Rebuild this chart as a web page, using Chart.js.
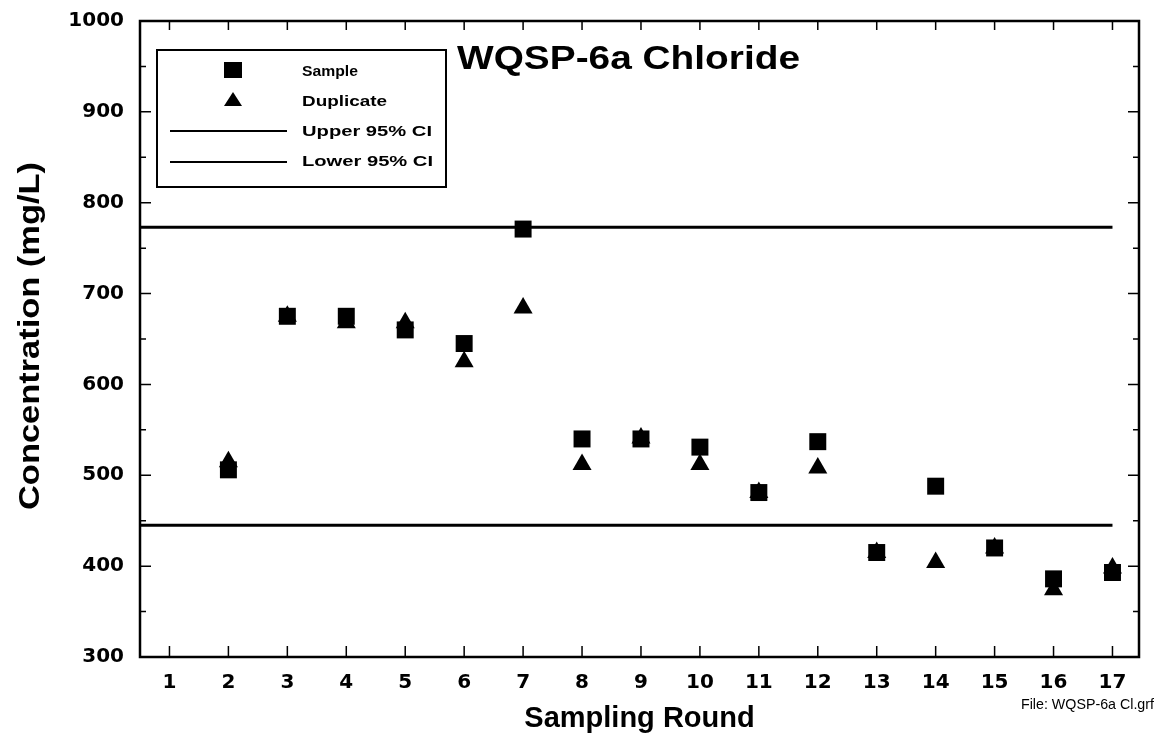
<!DOCTYPE html>
<html>
<head>
<meta charset="utf-8">
<script src="https://cdn.jsdelivr.net/npm/chart.js@4/dist/chart.umd.min.js"></script>
<style>
  html, body { margin: 0; padding: 0; background: #fff; }
  #wrap { width: 1157px; height: 736px; }
</style>
</head>
<body>
<div id="wrap"><canvas id="chlorideChart" width="1157" height="736"></canvas></div>
<script>
// Sampling rounds and measured values (mg/L)
const rounds = [2, 3, 4, 5, 6, 7, 8, 9, 10, 11, 12, 13, 14, 15, 16, 17];
const sampleValues = [506, 675, 675, 660, 645, 771, 540, 540, 531, 481, 537, 415, 488, 420, 386, 393];
const duplicateValues = [515, 675, 668, 668, 625, 684, 512, 541, 512, 481, 508, 415, 404, 420, 374, 398];

// Confidence limits, drawn across the rounds
const ciRounds = [0.5, 17];
const upperCI = [773, 773];
const lowerCI = [445, 445];

const xTicks = [1, 2, 3, 4, 5, 6, 7, 8, 9, 10, 11, 12, 13, 14, 15, 16, 17];
const yTicks = [300, 400, 500, 600, 700, 800, 900, 1000];

const boldFont = "'Liberation Sans', Arial, sans-serif";
const tickFont = "'DejaVu Sans', 'Liberation Sans', sans-serif";

function toPoints(xs, ys) {
  return xs.map((x, i) => ({ x: x, y: ys[i] }));
}

// draw text stretched to a given width
function fitText(ctx, text, x, y, width) {
  const w = ctx.measureText(text).width;
  ctx.save();
  ctx.translate(x, y);
  ctx.scale(width / w, 1);
  ctx.fillText(text, 0, 0);
  ctx.restore();
}

// Frame with inward ticks on all four sides
const framePlugin = {
  id: "frame",
  afterDraw(chart) {
    const { ctx, chartArea: a, scales } = chart;
    ctx.save();
    ctx.strokeStyle = "#000";
    ctx.lineWidth = 1.5;
    xTicks.forEach((v) => {
      const px = scales.x.getPixelForValue(v);
      ctx.beginPath();
      ctx.moveTo(px, a.bottom); ctx.lineTo(px, a.bottom - 11);
      ctx.moveTo(px, a.top); ctx.lineTo(px, a.top + 9);
      ctx.stroke();
    });
    for (let v = 300; v <= 1000; v += 50) {
      const py = scales.y.getPixelForValue(v);
      const len = v % 100 === 0 ? 11 : 6;
      ctx.beginPath();
      ctx.moveTo(a.left, py); ctx.lineTo(a.left + len, py);
      ctx.moveTo(a.right, py); ctx.lineTo(a.right - len, py);
      ctx.stroke();
    }
    ctx.lineWidth = 2.5;
    ctx.strokeRect(a.left, a.top, a.right - a.left, a.bottom - a.top);
    ctx.restore();
  }
};

// Title, y title, boxed legend and file note drawn on the canvas
const notesPlugin = {
  id: "notes",
  afterDraw(chart) {
    const ctx = chart.ctx;
    ctx.save();
    ctx.fillStyle = "#000";
    ctx.textBaseline = "alphabetic";
    ctx.textAlign = "left";
    ctx.font = "bold 34px " + boldFont;
    fitText(ctx, "WQSP-6a Chloride", 457, 69, 343);

    // y axis title, rotated
    ctx.save();
    ctx.translate(39, 510);
    ctx.rotate(-Math.PI / 2);
    ctx.font = "bold 30px " + boldFont;
    fitText(ctx, "Concentration (mg/L)", 0, 0, 348);
    ctx.restore();

    // legend box
    ctx.fillStyle = "#fff";
    ctx.fillRect(157, 50, 289, 137);
    ctx.strokeStyle = "#000";
    ctx.lineWidth = 2;
    ctx.strokeRect(157, 50, 289, 137);

    ctx.fillStyle = "#000";
    ctx.fillRect(224, 62, 18, 16);
    ctx.beginPath();
    ctx.moveTo(233, 92); ctx.lineTo(242, 106); ctx.lineTo(224, 106);
    ctx.closePath(); ctx.fill();
    ctx.lineWidth = 2;
    ctx.beginPath();
    ctx.moveTo(170, 131); ctx.lineTo(287, 131);
    ctx.moveTo(170, 162); ctx.lineTo(287, 162);
    ctx.stroke();

    ctx.font = "bold 14px " + boldFont;
    fitText(ctx, "Sample", 302, 76, 56);
    fitText(ctx, "Duplicate", 302, 106, 85);
    fitText(ctx, "Upper 95% CI", 302, 136, 130);
    fitText(ctx, "Lower 95% CI", 302, 166, 131);

    ctx.font = "15px 'Liberation Sans Narrow', " + boldFont;
    fitText(ctx, "File: WQSP-6a Cl.grf", 1021, 709, 133);
    ctx.restore();
  }
};

const ctxChart = document.getElementById("chlorideChart").getContext("2d");

new Chart(ctxChart, {
  type: "scatter",
  data: {
    datasets: [
      {
        label: "Sample",
        data: toPoints(rounds, sampleValues),
        pointStyle: "rect",
        pointRadius: 12,
        backgroundColor: "#000",
        borderColor: "#000",
        borderWidth: 0,
        order: 1
      },
      {
        label: "Duplicate",
        data: toPoints(rounds, duplicateValues),
        pointStyle: "triangle",
        pointRadius: 11,
        backgroundColor: "#000",
        borderColor: "#000",
        borderWidth: 0,
        order: 2
      },
      {
        label: "Upper 95% CI",
        type: "line",
        data: toPoints(ciRounds, upperCI),
        borderColor: "#000",
        borderWidth: 3,
        pointRadius: 0,
        order: 3
      },
      {
        label: "Lower 95% CI",
        type: "line",
        data: toPoints(ciRounds, lowerCI),
        borderColor: "#000",
        borderWidth: 3,
        pointRadius: 0,
        order: 3
      }
    ]
  },
  options: {
    responsive: false,
    animation: false,
    layout: { padding: { top: 21, right: 18, left: 0, bottom: 0 } },
    plugins: {
      legend: { display: false },
      tooltip: { enabled: false }
    },
    scales: {
      x: {
        type: "linear",
        min: 0.5,
        max: 17.45,
        afterBuildTicks: (scale) => { scale.ticks = xTicks.map((v) => ({ value: v })); },
        afterFit: (scale) => { scale.height = 79; scale.paddingLeft = 0; scale.paddingRight = 0; },
        grid: { display: false, drawTicks: false },
        border: { display: false },
        ticks: {
          color: "#000",
          padding: 14,
          maxRotation: 0,
          font: { family: tickFont, size: 20, weight: "bold" },
          callback: (v) => String(v)
        },
        title: {
          display: true,
          text: "Sampling Round",
          color: "#000",
          padding: { top: 0, bottom: 0 },
          font: { family: boldFont, size: 29, weight: "bold" }
        }
      },
      y: {
        min: 300,
        max: 1000,
        afterBuildTicks: (scale) => { scale.ticks = yTicks.map((v) => ({ value: v })); },
        afterFit: (scale) => { scale.width = 140; scale.paddingTop = 0; scale.paddingBottom = 0; },
        grid: { display: false, drawTicks: false },
        border: { display: false },
        ticks: {
          color: "#000",
          padding: 16,
          font: { family: tickFont, size: 20, weight: "bold" },
          callback: (v) => String(v)
        },
        title: { display: false }
      }
    }
  },
  plugins: [framePlugin, notesPlugin]
});
</script>
</body>
</html>
